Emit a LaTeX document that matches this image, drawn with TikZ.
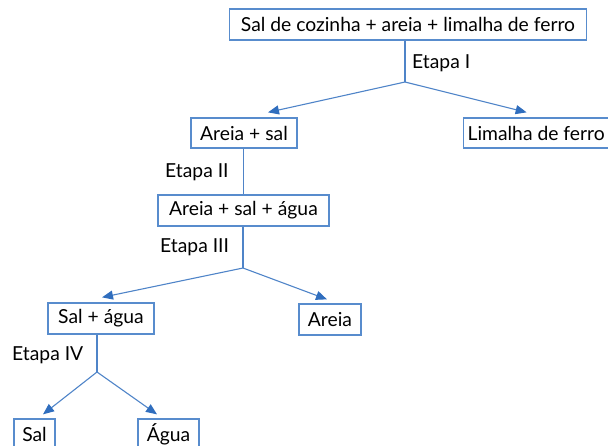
\documentclass[tikz,border=0pt]{standalone}
\usepackage{fontspec}
\setmainfont{Lato}
\usetikzlibrary{arrows.meta}
\definecolor{boxblue}{RGB}{88,140,205}
\definecolor{arrblue}{RGB}{48,110,190}
\begin{document}
\begin{tikzpicture}[x=1pt,y={(0,-1pt)},
  box/.style={draw=boxblue,line width=1.3pt,rectangle,inner sep=0pt,font=\fontsize{19.3}{22}\selectfont,text=black},
  lbl/.style={font=\fontsize{19.3}{22}\selectfont,text=black,inner sep=0pt},
  conn/.style={draw=arrblue!85!white,line width=1.1pt},
  arr/.style={conn,-{Triangle[length=11pt,width=9pt,fill=arrblue,color=arrblue]}}]
\useasboundingbox (0,0) rectangle (608,445);
% nodes
\node[box,minimum width=357pt,minimum height=31pt] (top) at (408,24.5) {Sal de cozinha + areia + limalha de ferro};
\node[box,minimum width=106pt,minimum height=30pt] (areiasal) at (244,133) {Areia + sal};
\node[box,minimum width=146pt,minimum height=30pt,anchor=west] (limalha) at (463,133) {\makebox[146pt][l]{\hspace*{4pt}Limalha de ferro}};
\node[box,minimum width=171pt,minimum height=31pt] (ass) at (243.5,210.5) {Areia + sal + água};
\node[box,minimum width=106pt,minimum height=31pt] (salagua) at (101,318.5) {Sal + água};
\node[box,minimum width=62pt,minimum height=31pt] (areia) at (330,319.5) {Areia};
\node[box,minimum width=41pt,minimum height=31pt] (sal) at (34.5,434.5) {Sal};
\node[box,minimum width=61pt,minimum height=31pt] (agua) at (168.5,434.5) {Água};
% junctions
\coordinate (j1) at (405,82);
\coordinate (j2) at (243,268);
\coordinate (j3) at (97,372);
% labels
\node[lbl,anchor=west] (e1) at (412,63) {Etapa I};
\node[lbl,anchor=west] (e2) at (165,172) {Etapa II};
\node[lbl,anchor=west] (e3) at (160,247) {Etapa III};
\node[lbl,anchor=west] (e4) at (12,355) {Etapa IV};
% connectors
\draw[conn] (top.south -| j1) -- (j1);
\draw[arr] (j1) -- ([shift={(24,-5)}]areiasal.north);
\draw[arr] (j1) -- ([shift={(-10,-5)}]limalha.north);
\draw[conn] (areiasal.south -| ass.north) -- (ass.north);
\draw[conn] (ass.south -| j2) -- (j2);
\draw[arr] (j2) -- ([shift={(1,-5)}]salagua.north);
\draw[arr] (j2) -- ([shift={(-3,-4)}]areia.north);
\draw[conn] (salagua.south -| j3) -- (j3);
\draw[arr] (j3) -- ([shift={(8.5,-4)}]sal.north);
\draw[arr] (j3) -- ([shift={(-11.5,-4)}]agua.north);
\end{tikzpicture}
\end{document}
